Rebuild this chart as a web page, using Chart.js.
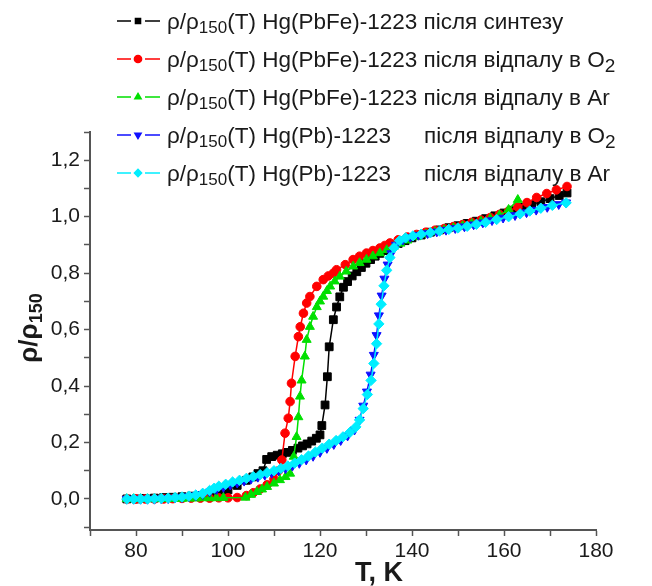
<!DOCTYPE html>
<html>
<head>
<meta charset="utf-8">
<script src="https://cdn.jsdelivr.net/npm/chart.js@4.4.1/dist/chart.umd.min.js"></script>
<style>
  html,body{margin:0;padding:0;background:#fff}
  canvas{display:block}
</style>
</head>
<body>
<canvas id="chart" width="652" height="586"></canvas>
<script>
/* ---------- data: T (K) and rho/rho150 for each sample ---------- */
const tSynth = [78,80,82,84,86,88,90,92,94,96,98,100,102,104,105.4,106.5,107.6,108.4,109.5,110.7,111.8,112.8,114,115.2,116.2,117.2,118.2,119.2,120,120.4,121.1,121.6,122,122.9,123.6,124.3,125.1,126,127,128,129,130,131,132,133,134,135.5,137,138.5,140,142,144,146,148,150,152,154,156,158,160,162,164,166,168,170,172,173.7];
const rSynth = [0,0,0.002,0.003,0.005,0.006,0.008,0.01,0.012,0.016,0.022,0.032,0.048,0.066,0.078,0.09,0.1,0.14,0.15,0.155,0.16,0.165,0.172,0.18,0.188,0.195,0.205,0.215,0.227,0.26,0.333,0.433,0.539,0.635,0.68,0.716,0.75,0.77,0.79,0.805,0.82,0.835,0.848,0.86,0.87,0.88,0.892,0.905,0.915,0.925,0.935,0.945,0.953,0.961,0.968,0.976,0.984,0.993,1.003,1.013,1.023,1.033,1.043,1.053,1.064,1.075,1.084];

const tFeO2 = [78,80,82,84,86,88,90,92,94,96,98,100,102,104,105.5,107,108.5,110,111,111.7,112.4,113.1,113.5,113.8,114.6,115.3,115.7,116.4,117.1,117.8,119.3,120.7,121.8,122.9,123.6,125.5,127.2,128.6,130.1,131.5,133,134.1,135.2,137,139,141,143,145,147,149,151,153,155,157,159,161,163,165,167.1,169.3,171.4,173.7];
const rFeO2 = [0,0,0,0,0,0.001,0.002,0.003,0.003,0.003,0.004,0.004,0.005,0.012,0.022,0.035,0.05,0.07,0.1,0.138,0.233,0.286,0.345,0.41,0.505,0.575,0.61,0.658,0.694,0.717,0.753,0.777,0.79,0.8,0.812,0.83,0.848,0.86,0.871,0.88,0.889,0.898,0.907,0.918,0.928,0.937,0.945,0.952,0.958,0.965,0.972,0.98,0.988,0.997,1.008,1.02,1.034,1.05,1.068,1.082,1.095,1.107];

const tFeAr = [78,79.5,81,82.5,84,85.5,87,88.5,90,91.5,93,94.5,96,97.5,99,103.8,105,106.3,107.4,108.5,110,111.3,112.5,113.5,114.3,114.9,115.3,115.65,116,116.7,117.1,117.8,118.5,119.3,120,120.7,121.5,122.2,123.2,124.3,125.7,127.2,128.6,130.1,131.5,133,134.5,136,137.5,139,141,143,145,147,149,151,153,155,157,159,161,163];
const rFeAr = [0,0,0,0,0,0,0,0.001,0.001,0.002,0.002,0.003,0.003,0.003,0.004,0.005,0.015,0.025,0.034,0.043,0.055,0.067,0.078,0.09,0.15,0.22,0.29,0.363,0.42,0.505,0.564,0.61,0.646,0.68,0.7,0.717,0.737,0.753,0.771,0.788,0.806,0.824,0.836,0.848,0.86,0.871,0.882,0.893,0.905,0.916,0.928,0.938,0.946,0.953,0.96,0.967,0.975,0.983,0.993,1.005,1.025,1.06];

const tPbO2 = [78,79.5,81,82.5,84,85.5,87,88.5,90,91.5,93,94.5,96,97.5,99,100.5,102,103.5,105,106.5,108,109.5,111,112.5,114,115.5,117,118.5,120,121.5,123,124.5,126,127.5,128.6,129.4,130.2,131,131.7,132.3,132.8,133.4,134,134.7,135.5,136.5,138,139.6,141.4,143.4,145.4,147.4,149.4,151.4,153.4,155.4,157.4,159.8,162.4,164.9,167,169.4,171.9,173.5];
const rPbO2 = [0,0,0,0,0,0.001,0.002,0.004,0.006,0.009,0.012,0.017,0.025,0.034,0.042,0.05,0.057,0.064,0.071,0.078,0.085,0.092,0.1,0.108,0.117,0.127,0.139,0.152,0.166,0.18,0.194,0.208,0.224,0.245,0.28,0.33,0.38,0.44,0.51,0.58,0.65,0.72,0.78,0.83,0.87,0.9,0.918,0.928,0.935,0.941,0.947,0.953,0.959,0.965,0.972,0.979,0.987,0.996,1.005,1.015,1.024,1.034,1.044,1.05];

const tPbAr = [78,79.5,81,82.5,84,85.5,87,88.5,90,91.5,93,94.5,96,97,98,99.5,101,102.5,104,105.5,107,108.5,110,111.5,113,114.5,116,117.5,119,120.5,122,123.5,125,126.5,127.8,128.6,129.4,130.3,131.1,131.7,132.3,132.8,133.3,133.9,134.5,135.2,136.1,137.3,138.6,140.2,142,144,146,148,150,152,154,156,158.4,161,163.5,165.6,168,170.5,173.5];
const rPbAr = [0,0,0,0,0.001,0.002,0.003,0.005,0.007,0.01,0.014,0.02,0.03,0.038,0.045,0.052,0.06,0.066,0.073,0.079,0.086,0.093,0.1,0.108,0.117,0.127,0.139,0.152,0.166,0.18,0.194,0.207,0.22,0.236,0.255,0.28,0.32,0.37,0.42,0.48,0.55,0.62,0.69,0.755,0.81,0.855,0.89,0.915,0.925,0.932,0.938,0.943,0.949,0.955,0.96,0.966,0.973,0.98,0.99,1,1.01,1.02,1.03,1.04,1.049];

const sampleNames = ["Hg(PbFe)-1223", "Hg(PbFe)-1223", "Hg(PbFe)-1223", "Hg(Pb)-1223", "Hg(Pb)-1223"];
const treatNames  = ["після синтезу", "після відпалу в O", "після відпалу в Ar", "після відпалу в O", "після відпалу в Ar"];
const treatSubs   = ["", "2", "", "2", ""];
const xTitle = "T, K";
const yTitle = "ρ/ρ";
const ySub = "150";

/* ---------- styling ---------- */
const FONT = '"Liberation Sans", Arial, sans-serif';
const series = [
  {t:tSynth, r:rSynth, color:"#000000", style:"rect",     rot:0,   rad:5.5},
  {t:tFeO2,  r:rFeO2,  color:"#ff0000", style:"circle",   rot:0,   rad:4.3},
  {t:tFeAr,  r:rFeAr,  color:"#00e000", style:"triangle", rot:0,   rad:5.2},
  {t:tPbO2,  r:rPbO2,  color:"#1010ff", style:"triangle", rot:180, rad:5.2},
  {t:tPbAr,  r:rPbAr,  color:"#00eeff", style:"rectRot",  rot:0,   rad:5.2},
];

const pts = (t, r) => t.map((v, i) => ({x: v, y: r[i]}));

/* draw a run of text pieces, some of them subscripts */
function richText(ctx, x, y, parts){
  parts.forEach(p => {
    ctx.font = `${p.bold ? "bold " : ""}${p.size}px ${FONT}`;
    ctx.fillText(p.t, x, y + (p.dy || 0));
    x += ctx.measureText(p.t).width;
  });
  return x;
}
function richWidth(ctx, parts){
  let w = 0;
  parts.forEach(p => { ctx.font = `${p.bold ? "bold " : ""}${p.size}px ${FONT}`; w += ctx.measureText(p.t).width; });
  return w;
}

const overlay = {
  id: "overlay",
  afterDraw(chart){
    const ctx = chart.ctx;
    ctx.save();
    ctx.fillStyle = "#1a1a1a";
    ctx.textBaseline = "alphabetic";

    /* legend */
    const rowY = [21, 59, 97, 135, 173];
    series.forEach((s, i) => {
      const y = rowY[i];
      ctx.strokeStyle = s.color; ctx.lineWidth = 1.5;
      ctx.beginPath();
      ctx.moveTo(117, y); ctx.lineTo(131, y);
      ctx.moveTo(145, y); ctx.lineTo(160, y);
      ctx.stroke();
      ctx.fillStyle = s.color;
      Chart.helpers.drawPoint(ctx, {pointStyle: s.style, radius: 3.6, rotation: s.rot, borderWidth: 1}, 138, y);
      ctx.fill();
      ctx.fillStyle = "#1a1a1a";
      const base = y + 8;
      let x = richText(ctx, 167, base, [
        {t: "ρ/ρ", size: 22.5},
        {t: "150", size: 17, dy: 4},
        {t: "(T) " + sampleNames[i] + (i < 3 ? " " : ""), size: 22.5}
      ]);
      if (i >= 3) x = 424;
      x = richText(ctx, x, base, [{t: treatNames[i], size: 22.5}]);
      if (treatSubs[i]) richText(ctx, x, base, [{t: treatSubs[i], size: 19, dy: 5}]);
    });

    /* x title */
    ctx.textAlign = "left";
    const xp = [{t: xTitle, size: 27, bold: true}];
    richText(ctx, 379 - richWidth(ctx, xp) / 2, 581, xp);

    /* y title (rotated) */
    const yp = [{t: yTitle, size: 26, bold: true}, {t: ySub, size: 18, bold: true, dy: 5}];
    ctx.translate(37, 328);
    ctx.rotate(-Math.PI / 2);
    richText(ctx, -richWidth(ctx, yp) / 2, 0, yp);
    ctx.restore();
  }
};

new Chart(document.getElementById("chart"), {
  type: "line",
  data: {
    datasets: series.map((s, i) => ({
      data: pts(s.t, s.r),
      borderColor: s.color,
      backgroundColor: s.color,
      borderWidth: 1.5,
      pointStyle: s.style,
      pointRotation: s.rot,
      pointRadius: s.rad,
      pointBorderWidth: 1,
      tension: 0,
      order: series.length - i
    }))
  },
  options: {
    responsive: false,
    animation: false,
    devicePixelRatio: 1,
    layout: {padding: {left: 0, top: 132, right: 56, bottom: 0}},
    plugins: {legend: {display: false}, tooltip: {enabled: false}},
    scales: {
      x: {
        type: "linear", min: 70, max: 180,
        afterFit: s => { s.height = 56; },
        ticks: {
          stepSize: 10, autoSkip: false, maxRotation: 0, padding: 3,
          color: "#1a1a1a", font: {size: 21, family: FONT},
          callback: v => (v % 20 === 0 ? String(v) : "")
        },
        grid: {drawOnChartArea: false, tickLength: 6, tickColor: "#555", tickWidth: 1.5},
        border: {color: "#555", width: 2}
      },
      y: {
        min: -0.11, max: 1.3,
        afterFit: s => { s.width = 90; },
        ticks: {
          stepSize: 0.1, includeBounds: false, autoSkip: false, padding: 4,
          color: "#1a1a1a", font: {size: 21, family: FONT},
          callback: v => {
            const k = Math.round(v * 10);
            return k % 2 === 0 ? (k / 10).toFixed(1).replace(".", ",") : "";
          }
        },
        grid: {drawOnChartArea: false, tickLength: 6, tickColor: "#555", tickWidth: 1.5},
        border: {color: "#555", width: 2}
      }
    }
  },
  plugins: [overlay]
});
</script>
</body>
</html>
